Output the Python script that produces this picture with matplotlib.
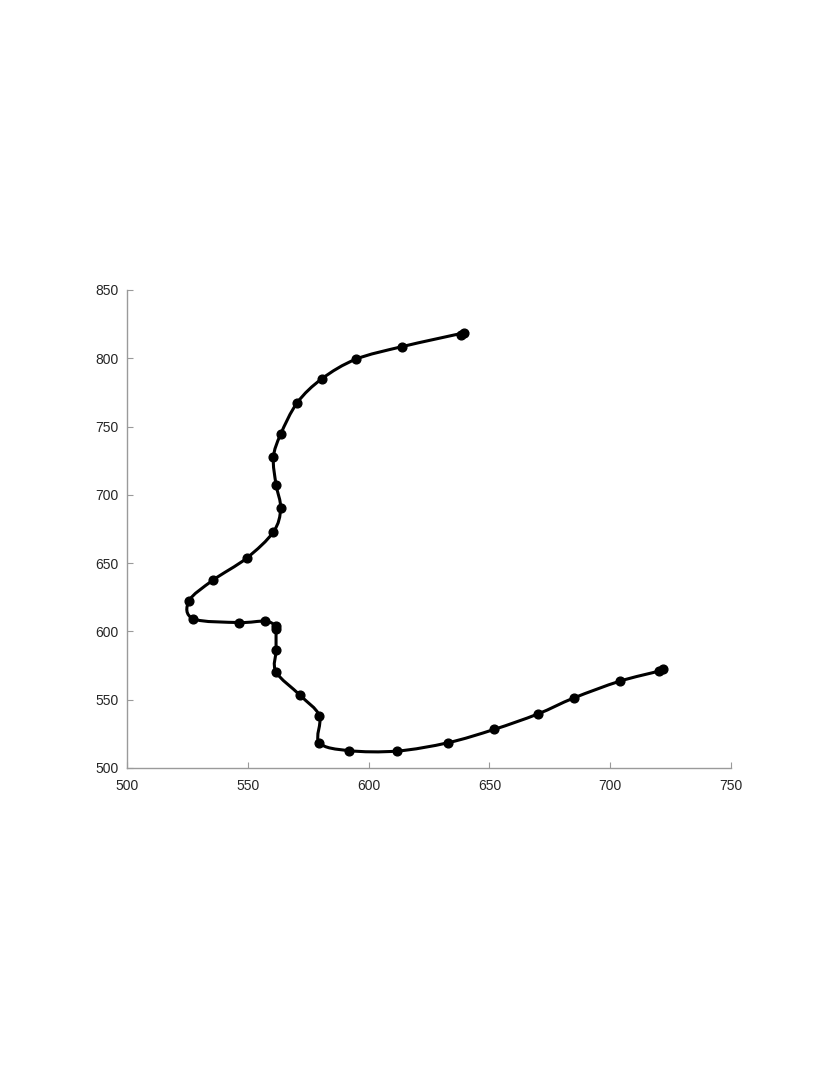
import numpy as np
import matplotlib
matplotlib.use("Agg")
import matplotlib.pyplot as plt
from matplotlib.path import Path
from matplotlib.patches import PathPatch

# -----------------------------
# Track points
# -----------------------------
track_x = [638.2, 639.5, 613.9, 594.8, 580.7, 570.5, 563.6, 560.6, 561.7, 563.6,
           560.6, 549.5, 535.5, 525.7, 527.5, 546.5, 557.2, 561.7, 561.7, 561.7,
           561.7, 571.6, 579.6, 579.6, 591.9, 611.9, 632.9, 651.9, 670.0, 685.0,
           703.9, 720.3, 722.0]
track_y = [817.1, 818.5, 808.5, 799.3, 785.0, 767.5, 744.3, 727.4, 707.4, 690.1,
           672.8, 653.6, 637.4, 622.4, 609.2, 606.5, 607.5, 604.0, 601.4, 586.3,
           570.4, 553.3, 538.4, 518.6, 512.7, 512.4, 518.5, 528.2, 539.5, 551.3,
           563.5, 571.0, 572.5]

x_ticks = [500, 550, 600, 650, 700, 750]
y_ticks = [500, 550, 600, 650, 700, 750, 800, 850]

plt.rcParams['font.family'] = ['Liberation Sans', 'DejaVu Sans']

fig = plt.figure(figsize=(8.3, 10.75), dpi=100)
ax = fig.add_axes([0.153, 0.2856, 0.7277, 0.4447])

# smooth line through the points: Catmull-Rom segments as cubic Bezier
px = np.array(track_x)
py = np.array(track_y)
pts = np.column_stack([px, py])
ext = np.vstack([pts[0], pts, pts[-1]])
verts = [tuple(pts[0])]
codes = [Path.MOVETO]
for i in range(1, len(ext) - 2):
    p0, p1, p2, p3 = ext[i - 1], ext[i], ext[i + 1], ext[i + 2]
    c1 = p1 + (p2 - p0) / 6.0
    c2 = p2 - (p3 - p1) / 6.0
    verts += [tuple(c1), tuple(c2), tuple(p2)]
    codes += [Path.CURVE4] * 3
ax.add_patch(PathPatch(Path(verts, codes), facecolor='none',
                       edgecolor='black', lw=2.2, capstyle='round',
                       joinstyle='round'))

ax.plot(track_x, track_y, 'o', color='black', markersize=6.3)

ax.set_xlim(500, 750)
ax.set_ylim(500, 850)
ax.set_xticks(x_ticks)
ax.set_yticks(y_ticks)

for s in ['top', 'right']:
    ax.spines[s].set_visible(False)
for s in ['left', 'bottom']:
    ax.spines[s].set_color('#9a9a9a')
    ax.spines[s].set_linewidth(1.0)
ax.tick_params(direction='in', length=4, color='#9a9a9a',
               labelsize=10, labelcolor='#262626')
ax.tick_params(axis='x', pad=8)
ax.tick_params(axis='y', pad=6)

fig.savefig('out.png', dpi=100, facecolor='white')
